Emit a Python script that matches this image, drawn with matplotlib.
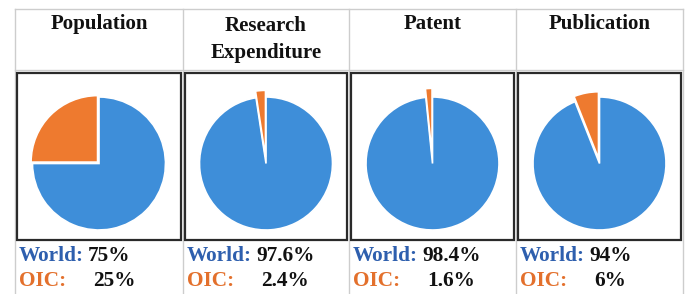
import matplotlib
matplotlib.use("Agg")
import matplotlib.pyplot as plt
from matplotlib.patches import Rectangle

categories = ["Population", "Research\nExpenditure", "Patent", "Publication"]
world = [75, 97.6, 98.4, 94]
oic = [25, 2.4, 1.6, 6]
world_labels = ["75%", "97.6%", "98.4%", "94%"]
oic_labels = ["25%", "2.4%", "1.6%", "6%"]

W, H = 686, 294
fig = plt.figure(figsize=(6.86, 2.94), dpi=100)
fig.patch.set_facecolor("white")
bg = fig.add_axes([0, 0, 1, 1])
bg.set_xlim(0, W)
bg.set_ylim(H, 0)
bg.axis("off")

col_edges = [15, 183, 349, 516, 683]
gray = "#cdcdcd"
dark = "#2a2a2a"
blue = "#3e8ed9"
orange = "#ee7a2f"
txt_blue = "#2e5fae"
txt_orange = "#e3702c"
font = "Liberation Serif"
explodes = [0.03, 0.1, 0.13, 0.08]

# table grid
bg.plot([col_edges[0], col_edges[-1]], [9, 9], color=gray, lw=1)
bg.plot([col_edges[0], col_edges[-1]], [70, 70], color=gray, lw=1)
for x in col_edges:
    bg.plot([x, x], [9, H], color=gray, lw=1)

box_top, box_bot = 72.5, 240
r_px = 66.5
half = 80
for i, cat in enumerate(categories):
    left, right = col_edges[i], col_edges[i + 1]
    cx = (left + right) / 2
    # header
    bg.text(cx, 24 if "\n" not in cat else 39.5, cat, ha="center", va="center",
            fontsize=15, fontweight="bold", family=font, linespacing=1.42,
            color="#111111")
    # box
    bg.add_patch(Rectangle((left + 1.5, box_top), (right - left) - 3.5,
                           box_bot - box_top, fill=False, edgecolor=dark,
                           lw=1.6, zorder=3))
    # pie
    cy = 163.5
    ax = fig.add_axes([(cx - half) / W, (H - (cy + half)) / H,
                       2 * half / W, 2 * half / H])
    ax.pie([world[i], oic[i]], colors=[blue, orange], startangle=90,
           counterclock=False, explode=[0, explodes[i]],
           wedgeprops=dict(edgecolor="white", linewidth=1.2))
    lim = half / r_px
    ax.set_xlim(-lim, lim)
    ax.set_ylim(-lim, lim)
    ax.axis("off")
    # bottom labels
    bg.text(left + 4, 256, "World:", ha="left", va="center", fontsize=15.3,
            fontweight="bold", family=font, color=txt_blue)
    bg.text(left + 73, 256, world_labels[i], ha="left", va="center",
            fontsize=15.3, fontweight="bold", family=font, color="#111111")
    bg.text(left + 4, 281, "OIC:", ha="left", va="center", fontsize=15.3,
            fontweight="bold", family=font, color=txt_orange)
    bg.text(left + 78, 281, oic_labels[i], ha="left", va="center",
            fontsize=15.3, fontweight="bold", family=font, color="#111111")

fig.savefig("out.png", dpi=100, facecolor="white")
